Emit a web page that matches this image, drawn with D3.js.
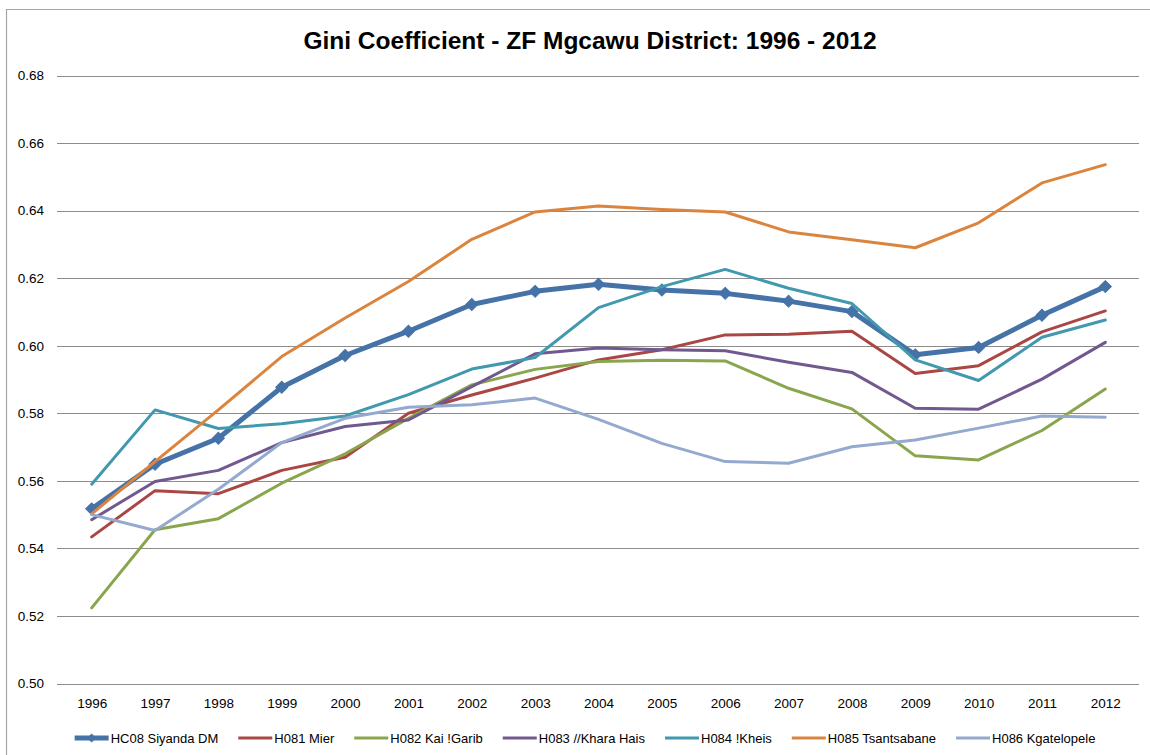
<!DOCTYPE html>
<html>
<head>
<meta charset="utf-8">
<script src="https://cdn.jsdelivr.net/npm/d3@7"></script>
<style>
  html, body { margin: 0; padding: 0; background: #fff; }
  svg { display: block; font-family: "Liberation Sans", Arial, sans-serif; }
</style>
</head>
<body>
<svg id="chart" width="1150" height="755"></svg>
<script>
const years = ["1996","1997","1998","1999","2000","2001","2002","2003","2004","2005","2006","2007","2008","2009","2010","2011","2012"];
const yTicks = [0.50, 0.52, 0.54, 0.56, 0.58, 0.60, 0.62, 0.64, 0.66, 0.68];
const seriesNames = ["HC08 Siyanda DM","H081 Mier","H082 Kai !Garib","H083 //Khara Hais","H084 !Kheis","H085 Tsantsabane","H086 Kgatelopele"];
const siyanda = [0.5517,0.5649,0.5726,0.5877,0.5971,0.6043,0.6122,0.6161,0.6182,0.6165,0.6155,0.6132,0.6101,0.5973,0.5995,0.6090,0.6175];
const mier = [0.5434,0.5571,0.5562,0.5631,0.5670,0.5800,0.5854,0.5904,0.5958,0.5988,0.6032,0.6034,0.6043,0.5918,0.5941,0.6041,0.6103];
const kaiGarib = [0.5224,0.5455,0.5488,0.5593,0.5680,0.5785,0.5884,0.5930,0.5953,0.5957,0.5955,0.5874,0.5813,0.5674,0.5662,0.5749,0.5872];
const kharaHais = [0.5485,0.5598,0.5631,0.5713,0.5761,0.5780,0.5879,0.5976,0.5993,0.5988,0.5985,0.5951,0.5921,0.5815,0.5812,0.5901,0.6010];
const kheis = [0.5590,0.5810,0.5755,0.5769,0.5792,0.5855,0.5931,0.5965,0.6113,0.6175,0.6226,0.6170,0.6125,0.5958,0.5897,0.6025,0.6076];
const tsantsabane = [0.5502,0.5657,0.5810,0.5968,0.6082,0.6190,0.6315,0.6396,0.6414,0.6403,0.6396,0.6337,0.6314,0.6290,0.6364,0.6482,0.6536];
const kgatelopele = [0.5500,0.5453,0.5575,0.5713,0.5785,0.5818,0.5825,0.5845,0.5782,0.5711,0.5657,0.5652,0.5701,0.5721,0.5756,0.5792,0.5788];

const seriesValues = [siyanda, mier, kaiGarib, kharaHais, kheis, tsantsabane, kgatelopele];
const colors = ["#4572A7","#AA4643","#89A54E","#71588F","#4198AF","#DB843D","#93A9CF"];
const widths = [5, 3, 3, 3, 3, 3, 3];

const svg = d3.select("#chart");

// outer chart border
svg.append("path")
  .attr("d", "M6.5,760 L6.5,9.5 L1152,9.5")
  .attr("fill", "none").attr("stroke", "#a6a6a6").attr("stroke-width", 1.2);

const x = d3.scalePoint().domain(years).range([60, 1137]).padding(0.5);
const y = d3.scaleLinear().domain([0.50, 0.68]).range([683.5, 75.5]);

// gridlines
svg.append("g")
  .selectAll("line").data(yTicks).join("line")
  .attr("x1", 57).attr("x2", 1139)
  .attr("y1", d => Math.round(y(d)) + 0.5).attr("y2", d => Math.round(y(d)) + 0.5)
  .attr("stroke", "#8c8c8c").attr("stroke-width", 1);

// y axis labels
const yAxis = d3.axisLeft(y).tickValues(yTicks).tickFormat(d3.format(".2f")).tickSize(0).tickPadding(0);
const gy = svg.append("g").attr("transform", "translate(44,0)").call(yAxis);
gy.select(".domain").remove();
gy.selectAll("text").attr("font-size", 13.5).attr("fill", "#000").attr("font-family", "Liberation Sans, Arial, sans-serif");

// x axis labels
const xAxis = d3.axisBottom(x).tickSize(0).tickPadding(0);
const gx = svg.append("g").attr("transform", "translate(0,698)").call(xAxis);
gx.select(".domain").remove();
gx.selectAll("text").attr("font-size", 13.5).attr("fill", "#000").attr("font-family", "Liberation Sans, Arial, sans-serif");

// title
svg.append("text")
  .attr("x", 590).attr("y", 49)
  .attr("text-anchor", "middle")
  .attr("font-size", 24.5).attr("font-weight", "bold")
  .attr("font-family", "Liberation Sans, Arial, sans-serif")
  .text("Gini Coefficient - ZF Mgcawu District: 1996 - 2012");

// lines
const line = d3.line().x((d, i) => x(years[i])).y(d => y(d));
const diamond = d3.symbol().type(d3.symbolSquare).size(72);

seriesValues.forEach((vals, si) => {
  const g = svg.append("g");
  g.append("path").datum(vals)
    .attr("d", line)
    .attr("fill", "none")
    .attr("stroke", colors[si])
    .attr("stroke-width", widths[si])
    .attr("stroke-linejoin", "round")
    .attr("stroke-linecap", "round");
  if (si === 0) {
    g.selectAll("path.m").data(vals).join("path").attr("class", "m")
      .attr("d", diamond)
      .attr("transform", (d, i) => `translate(${x(years[i])},${y(d)}) rotate(45)`)
      .attr("fill", colors[si]).attr("stroke", colors[si]).attr("stroke-width", 1);
  }
});

// legend
const legend = svg.append("g");
let cx = 0;
const items = [];
const gap = 20;
seriesNames.forEach((name, si) => {
  const g = legend.append("g");
  g.append("line").attr("x1", 0).attr("x2", 34).attr("y1", 0).attr("y2", 0)
    .attr("stroke", colors[si]).attr("stroke-width", si === 0 ? 5 : 3);
  if (si === 0) {
    g.append("path").attr("d", d3.symbol().type(d3.symbolSquare).size(40))
      .attr("transform", "translate(17,0) rotate(45)").attr("fill", colors[si]);
  }
  const t = g.append("text").attr("x", 36).attr("y", 5)
    .attr("font-size", 13).attr("fill", "#000")
    .attr("font-family", "Liberation Sans, Arial, sans-serif")
    .text(name);
  const w = 36 + t.node().getComputedTextLength();
  items.push({g, off: cx});
  cx += w + gap;
});
const total = cx - gap;
const startX = 585 - total / 2;
items.forEach(it => it.g.attr("transform", `translate(${startX + it.off},738)`));
</script>
</body>
</html>
